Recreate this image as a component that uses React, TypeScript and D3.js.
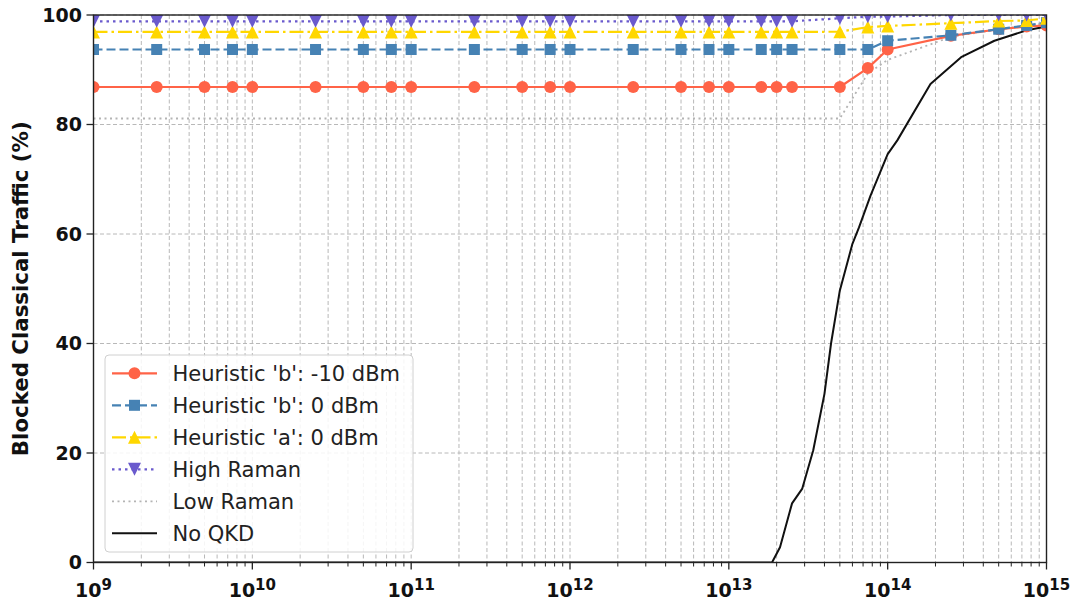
import React from "react";
import * as d3 from "d3";

const xValues = [
  1e9, 2.5e9, 5e9, 7.5e9, 1e10, 2.5e10, 5e10, 7.5e10, 1e11, 2.5e11, 5e11, 7.5e11,
  1e12, 2.5e12, 5e12, 7.5e12, 1e13, 1.6e13, 2e13, 2.5e13, 5e13, 7.5e13, 1e14,
  2.5e14, 5e14, 7.5e14, 1e15,
];
const heurB10 = [
  86.85, 86.85, 86.85, 86.85, 86.85, 86.85, 86.85, 86.85, 86.85, 86.85, 86.85, 86.85,
  86.85, 86.85, 86.85, 86.85, 86.85, 86.85, 86.85, 86.85, 86.85, 90.3, 93.7,
  96.2, 97.4, 97.9, 98.1,
];
const heurB0 = [
  93.7, 93.7, 93.7, 93.7, 93.7, 93.7, 93.7, 93.7, 93.7, 93.7, 93.7, 93.7,
  93.7, 93.7, 93.7, 93.7, 93.7, 93.7, 93.7, 93.7, 93.7, 93.7, 95.3,
  96.3, 97.4, 98.1, 98.6,
];
const heurA0 = [
  96.9, 96.9, 96.9, 96.9, 96.9, 96.9, 96.9, 96.9, 96.9, 96.9, 96.9, 96.9,
  96.9, 96.9, 96.9, 96.9, 96.9, 96.9, 96.9, 96.9, 96.95, 97.8, 98.0,
  98.5, 98.9, 99.0, 99.4,
];
const highRaman = [
  98.85, 98.85, 98.85, 98.85, 98.85, 98.85, 98.85, 98.85, 98.85, 98.85, 98.85, 98.85,
  98.85, 98.85, 98.85, 98.85, 98.85, 98.85, 98.85, 98.85, 99.4, 99.7, 99.7,
  100, 100, 100, 100,
];
const lowRaman = [
  81.1, 81.1, 81.1, 81.1, 81.1, 81.1, 81.1, 81.1, 81.1, 81.1, 81.1, 81.1,
  81.1, 81.1, 81.1, 81.1, 81.1, 81.1, 81.1, 81.1, 81.1, 89.3, 91.8,
  96.0, 97.4, 98.1, 98.5,
];
const noQkdX = [
  1e9, 1.87e13, 2.1e13, 2.5e13, 2.9e13, 3.4e13, 4.0e13, 4.4e13, 5.0e13, 6.0e13,
  6.6e13, 7.8e13, 1.0e14, 1.15e14, 1.86e14, 2.9e14, 4.7e14, 7.5e14, 1e15,
];
const noQkdY = [
  0, 0, 2.8, 10.8, 13.5, 20.5, 30.8, 40, 49.7, 58.2,
  61.2, 67.0, 74.6, 77.1, 87.4, 92.3, 95.3, 97.2, 97.9,
];
const yTicks = [0, 20, 40, 60, 80, 100];
const xExponents = [9, 10, 11, 12, 13, 14, 15];
const legendLabels = [
  "Heuristic 'b': -10 dBm",
  "Heuristic 'b': 0 dBm",
  "Heuristic 'a': 0 dBm",
  "High Raman",
  "Low Raman",
  "No QKD",
];

type Series = {
  label: string;
  xs: number[];
  ys: number[];
  color: string;
  dash: string;
  width: number;
  marker: string | null;
};

const series: Series[] = [
  { label: legendLabels[4], xs: xValues, ys: lowRaman, color: "#b4b4b4", dash: "2,3.5", width: 1.8, marker: null },
  { label: legendLabels[5], xs: noQkdX, ys: noQkdY, color: "#111111", dash: "", width: 2, marker: null },
  { label: legendLabels[0], xs: xValues, ys: heurB10, color: "#ff6347", dash: "", width: 2.2, marker: "circle" },
  { label: legendLabels[1], xs: xValues, ys: heurB0, color: "#4682b4", dash: "9,4", width: 2.2, marker: "square" },
  { label: legendLabels[2], xs: xValues, ys: heurA0, color: "#ffd700", dash: "14,4,2.5,4", width: 2.2, marker: "tri-up" },
  { label: legendLabels[3], xs: xValues, ys: highRaman, color: "#6a5acd", dash: "2.5,4", width: 2.2, marker: "tri-down" },
];

const legendOrder = [2, 3, 4, 5, 0, 1];

const FONT = "DejaVu Sans";

function Marker({ kind, x, y, color }: { kind: string | null; x: number; y: number; color: string }) {
  if (!kind) return null;
  if (kind === "circle") return <circle cx={x} cy={y} r={6} fill={color} />;
  if (kind === "square") return <rect x={x - 5.5} y={y - 5.5} width={11} height={11} fill={color} />;
  if (kind === "tri-up")
    return <path d={`M${x},${y - 6.5}L${x - 6.5},${y + 6.5}L${x + 6.5},${y + 6.5}Z`} fill={color} />;
  return <path d={`M${x},${y + 6.5}L${x - 6.5},${y - 6.5}L${x + 6.5},${y - 6.5}Z`} fill={color} />;
}

export default function App() {
  const W = 1076, H = 602;
  const left = 93.5, right = 1046.5, top = 15, bottom = 562.5;
  const x = d3.scaleLog().domain([1e9, 1e15]).range([left, right]);
  const y = d3.scaleLinear().domain([0, 100]).range([bottom, top]);

  const minorX: number[] = [];
  for (let e = 9; e < 15; e++) for (let m = 2; m <= 9; m++) minorX.push(m * Math.pow(10, e));

  const line = d3
    .line<[number, number]>()
    .x((d) => x(d[0]))
    .y((d) => y(d[1]));

  const grid = "#b8b8b8";

  return (
    <svg width={W} height={H} style={{ position: "absolute", left: 0, top: 0, background: "#fff" }} fontFamily={FONT}>
      <defs>
        <clipPath id="plotclip">
          <rect x={left} y={top} width={right - left} height={bottom - top} />
        </clipPath>
      </defs>
      {/* grid */}
      {minorX.map((v, i) => (
        <line key={"mg" + i} x1={x(v)} x2={x(v)} y1={top} y2={bottom} stroke={grid} strokeWidth={1} strokeDasharray="4,2.5" />
      ))}
      {xExponents.map((e) => (
        <line key={"Mg" + e} x1={x(Math.pow(10, e))} x2={x(Math.pow(10, e))} y1={top} y2={bottom} stroke={grid} strokeWidth={1} strokeDasharray="4,2.5" />
      ))}
      {yTicks.map((t) => (
        <line key={"yg" + t} x1={left} x2={right} y1={y(t)} y2={y(t)} stroke={grid} strokeWidth={1} strokeDasharray="4,2.5" />
      ))}

      {/* series */}
      <g clipPath="url(#plotclip)">
        {series.map((s, i) => {
          const pts = s.xs.map((xv, j) => [xv, s.ys[j]] as [number, number]);
          return (
            <g key={"s" + i}>
              <path d={line(pts) || ""} fill="none" stroke={s.color} strokeWidth={s.width} strokeDasharray={s.dash || undefined} strokeLinejoin="round" />
              {s.marker && pts.map((p, j) => <Marker key={j} kind={s.marker} x={x(p[0])} y={y(p[1])} color={s.color} />)}
            </g>
          );
        })}
      </g>

      {/* spines */}
      <rect x={left} y={top} width={right - left} height={bottom - top} fill="none" stroke="#222" strokeWidth={1.4} />

      {/* x ticks */}
      {minorX.map((v, i) => (
        <line key={"mt" + i} x1={x(v)} x2={x(v)} y1={bottom} y2={bottom + 4} stroke="#222" strokeWidth={1} />
      ))}
      {xExponents.map((e) => {
        const px = x(Math.pow(10, e));
        return (
          <g key={"xt" + e}>
            <line x1={px} x2={px} y1={bottom} y2={bottom + 7} stroke="#222" strokeWidth={1.3} />
            <text x={px} y={597} textAnchor="middle" fontSize={19} fontWeight="bold" fill="#111">
              10
              <tspan fontSize={15} dy={-7}>{e}</tspan>
            </text>
          </g>
        );
      })}

      {/* y ticks */}
      {yTicks.map((t) => (
        <g key={"yt" + t}>
          <line x1={left - 7} x2={left} y1={y(t)} y2={y(t)} stroke="#222" strokeWidth={1.3} />
          <text x={82} y={y(t)} dy="0.36em" textAnchor="end" fontSize={19} fontWeight="bold" fill="#111">
            {t}
          </text>
        </g>
      ))}
      <text transform={`translate(28,${(top + bottom) / 2}) rotate(-90)`} textAnchor="middle" fontSize={21.3} fontWeight="bold" fill="#111">
        Blocked Classical Traffic (%)
      </text>

      {/* legend */}
      <g>
        <rect x={105} y={355} width={308} height={197} rx={4} fill="#fff" fillOpacity={0.85} stroke="#d0d0d0" strokeWidth={1} />
        {legendOrder.map((si, k) => {
          const s = series[si];
          const ly = 373.3 + k * 32;
          return (
            <g key={"lg" + k}>
              <line x1={112} x2={157} y1={ly} y2={ly} stroke={s.color} strokeWidth={s.width} strokeDasharray={s.dash || undefined} />
              {s.marker && <Marker kind={s.marker} x={134.5} y={ly} color={s.color} />}
              <text x={172.5} y={ly} dy="0.36em" fontSize={21} fill="#222">
                {s.label}
              </text>
            </g>
          );
        })}
      </g>
    </svg>
  );
}
